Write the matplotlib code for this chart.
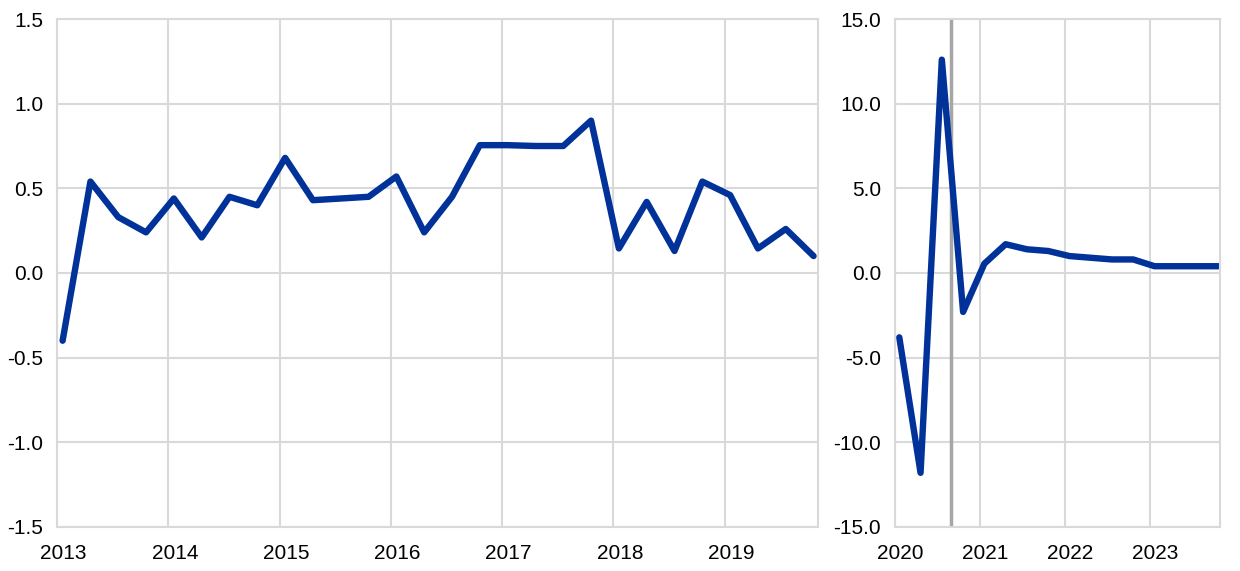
import matplotlib
matplotlib.use('Agg')
import matplotlib.pyplot as plt
import numpy as np

# quarterly values, 2013Q1-2019Q4
left_vals = [-0.40, 0.54, 0.33, 0.24, 0.44, 0.21, 0.45, 0.40,
             0.68, 0.43, 0.44, 0.45, 0.57, 0.24, 0.45, 0.755,
             0.755, 0.75, 0.75, 0.90, 0.145, 0.42, 0.13, 0.54,
             0.46, 0.145, 0.26, 0.10]
left_years = [2013, 2014, 2015, 2016, 2017, 2018, 2019]

# quarterly values, 2020Q1-2023Q4
right_vals = [-3.8, -11.8, 12.6, -2.3, 0.55, 1.7, 1.4, 1.3,
              1.0, 0.9, 0.8, 0.8, 0.4, 0.4, 0.4, 0.4]
right_years = [2020, 2021, 2022, 2023]
cutoff = 2020.66  # vertical marker

blue = '#003299'
grid_col = '#d9d9d9'

plt.rcParams['font.family'] = ['Liberation Sans', 'DejaVu Sans']
plt.rcParams['font.size'] = 15

fig = plt.figure(figsize=(12.4, 5.71), dpi=100)
ax1 = fig.add_axes([0.046, 0.0771, 0.6137, 0.8896])
ax2 = fig.add_axes([0.7218, 0.0771, 0.2621, 0.8896])


def style(ax, years, x0, x1, ylim, yticks, fmt):
    ax.set_xlim(x0, x1)
    ax.set_ylim(*ylim)
    ax.set_yticks(yticks)
    ax.set_yticklabels([fmt.format(v) for v in yticks])
    ax.set_xticks([y + 0.06 for y in years])
    ax.set_xticklabels([str(y) for y in years])
    ax.set_xticks(years, minor=True)
    ax.tick_params(axis='both', which='both', length=0)
    ax.tick_params(axis='y', pad=10)
    ax.tick_params(axis='x', pad=12)
    ax.grid(False)
    ax.grid(True, axis='x', which='minor', color=grid_col, lw=1.5)
    ax.grid(True, axis='y', which='major', color=grid_col, lw=1.5)
    ax.set_axisbelow(True)
    for s in ax.spines.values():
        s.set_color(grid_col)
        s.set_linewidth(1.5)


x_left = [2013.05 + 0.25 * i for i in range(len(left_vals))]
ax1.plot(x_left, left_vals, color=blue, lw=4.6, solid_capstyle='round', solid_joinstyle='round')
style(ax1, left_years, 2013, 2019.84, (-1.5, 1.5), np.arange(-1.5, 1.51, 0.5), '{:.1f}')

x_right = [2020.05 + 0.25 * i for i in range(len(right_vals))]
ax2.axvline(cutoff, color='#a6a6a6', lw=2.5, zorder=1.5)
ax2.plot(x_right, right_vals, color=blue, lw=4.6, solid_capstyle='round', solid_joinstyle='round')
style(ax2, right_years, 2020, 2023.82, (-15, 15), np.arange(-15, 15.1, 5), '{:.1f}')

fig.savefig('out.png', dpi=100)
